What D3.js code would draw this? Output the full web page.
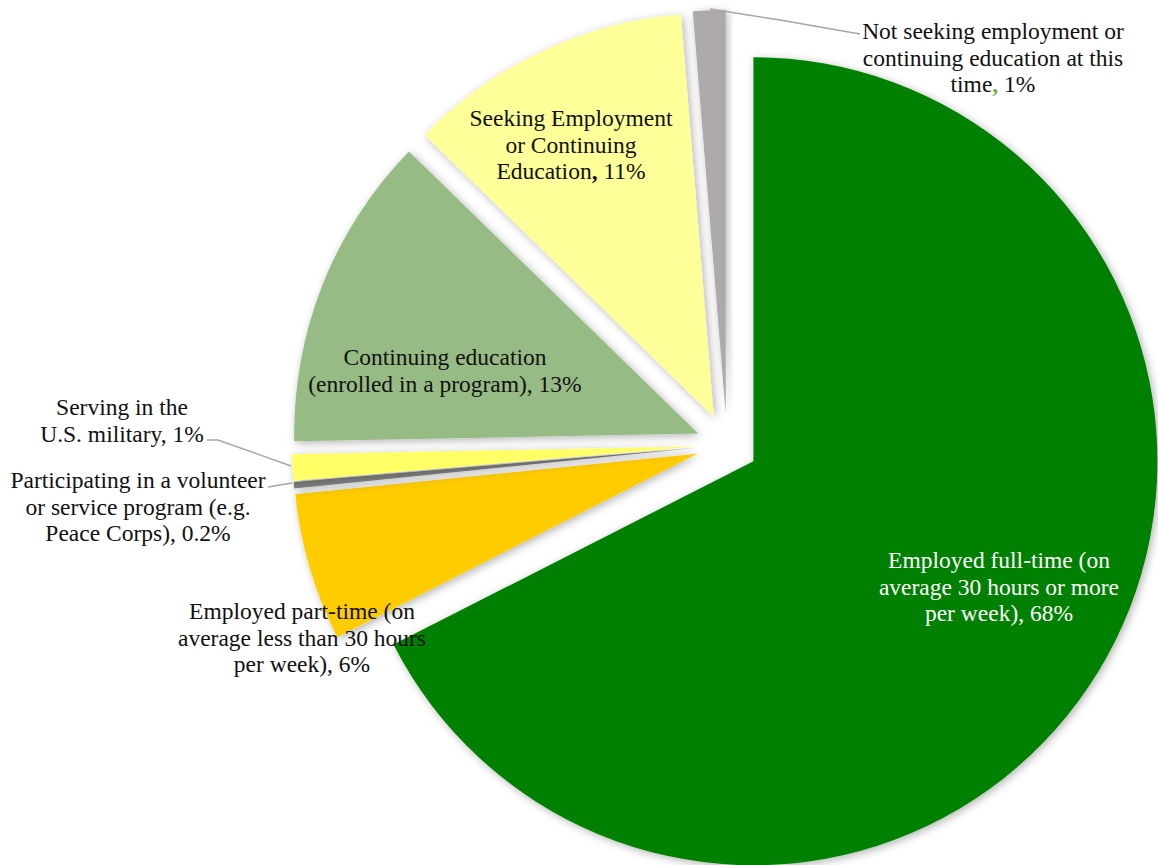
<!DOCTYPE html>
<html><head><meta charset="utf-8">
<script src="https://cdn.jsdelivr.net/npm/d3@7"></script>
<style>body{margin:0;background:#fff}</style>
</head><body>
<svg id="c" width="1158" height="865"></svg>
<script>
// ---- data ----
const categories = [
  "Employed full-time (on average 30 hours or more per week)",
  "Employed part-time (on average less than 30 hours per week)",
  "Participating in a volunteer or service program (e.g. Peace Corps)",
  "Serving in the U.S. military",
  "Continuing education (enrolled in a program)",
  "Seeking Employment or Continuing Education",
  "Not seeking employment or continuing education at this time"
];
const values = [67.5, 5.9, 0.25, 1.05, 12.6, 11.4, 1.3];
const valueLabels = ["68%", "6%", "0.2%", "1%", "13%", "11%", "1%"];
const labelLines = [
  ["Employed full-time (on", "average 30 hours or more", "per week), 68%"],
  ["Employed part-time (on", "average less than 30 hours", "per week), 6%"],
  ["Participating in a volunteer", "or service program (e.g.", "Peace Corps), 0.2%"],
  ["Serving in the", "U.S. military, 1%"],
  ["Continuing education", "(enrolled in a program), 13%"],
  ["Seeking Employment", "or Continuing", "Education{b,} 11%"],
  ["Not seeking employment or", "continuing education at this", "time{g,} 1%"]
];
const colors = ["#008000", "#FFCC00", "#808080", "#FFFF66", "#97BB84", "#FFFF99", "#AEAAAA"];

// ---- layout ----
const W = 1158, H = 865;
const cx = 727, cy = 445, R = 404, explode = 31;
const labelPos = [[999, 560], [302, 611], [138, 480], [122, 407], [445, 357], [571, 118], [993, 31]];
const labelFill = ["#fff", "#111", "#111", "#111", "#111", "#111", "#111"];
const leaders = [
  [[207, 440], [218, 440], [291, 466]],
  [[268, 487], [292, 483]],
  [[860, 34], [780, 20], [710, 9]]
];
const lineH = 26.6;

const svg = d3.select("#c");
const defs = svg.append("defs");
const f = defs.append("filter").attr("id", "sh").attr("x", "-20%").attr("y", "-20%").attr("width", "140%").attr("height", "140%");
f.append("feDropShadow").attr("dx", 2).attr("dy", 2).attr("stdDeviation", 4.5).attr("flood-color", "#000").attr("flood-opacity", 0.3);

const pie = d3.pie().sort(null).value(d => d).startAngle(0).endAngle(2 * Math.PI);
const arcs = pie(values);
const arc = d3.arc().innerRadius(0).outerRadius(R);

const g = svg.append("g").attr("transform", `translate(${cx},${cy})`);
g.selectAll("path.slice").data(arcs).join("path")
  .attr("class", "slice")
  .attr("d", arc)
  .attr("fill", (d, i) => colors[i])
  .attr("filter", "url(#sh)")
  .attr("transform", d => {
    const a = (d.startAngle + d.endAngle) / 2;
    return `translate(${explode * Math.sin(a)},${-explode * Math.cos(a)})`;
  });

// leader lines
const line = d3.line().curve(d3.curveLinear);
svg.selectAll("path.leader").data(leaders).join("path")
  .attr("class", "leader")
  .attr("d", d => line(d))
  .attr("fill", "none")
  .attr("stroke", "#A6A6A6")
  .attr("stroke-width", 1.5);

// labels
const font = "'Liberation Serif', 'Times New Roman', serif";
labelLines.forEach((lines, i) => {
  const t = svg.append("text")
    .attr("x", labelPos[i][0]).attr("y", labelPos[i][1])
    .attr("text-anchor", "middle")
    .attr("font-family", font)
    .attr("font-size", 23.5)
    .attr("fill", labelFill[i]);
  lines.forEach((ln, j) => {
    const ts = t.append("tspan")
      .attr("x", labelPos[i][0])
      .attr("y", labelPos[i][1] + j * lineH)
      .attr("dominant-baseline", "central");
    const m = ln.match(/^(.*)\{([bg]),\}(.*)$/);
    if (m) {
      ts.append("tspan").text(m[1]);
      const c = ts.append("tspan").text(",");
      if (m[2] === "g") c.attr("fill", "#70AD47").attr("font-weight", "bold");
      else c.attr("font-weight", "bold");
      ts.append("tspan").text(m[3]);
    } else {
      ts.text(ln);
    }
  });
});
</script>
</body></html>
